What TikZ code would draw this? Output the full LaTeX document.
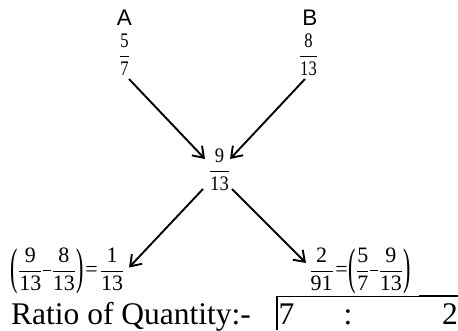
\documentclass[tikz,border=0pt]{standalone}
\usepackage{amsmath}
\usepackage{fontspec}
\setmainfont{Liberation Serif}
\newfontfamily\arialf{Liberation Sans}
\usepackage{graphicx}
\usetikzlibrary{arrows.meta,calc}
\newcommand{\fr}[2]{\ensuremath{\genfrac{}{}{0.9pt}{0}{\text{#1}}{\text{#2}}}}
\newcommand{\lpar}{\raisebox{-7.1pt}{\scalebox{1}[2.29]{(}}}
\newcommand{\rpar}{\raisebox{-7.1pt}{\scalebox{1}[2.29]{)}}}
\newcommand{\mn}{\hspace{0.6pt}\rule[5.05pt]{8pt}{0.9pt}\hspace{0.6pt}}
\begin{document}
\begin{tikzpicture}[x=1pt,y=-1pt,
  arr/.style={line width=1.9pt,-{Straight Barb[length=10pt,width=14pt,line width=1.9pt]}},
  lab/.style={inner sep=0pt,font=\arialf\fontsize{22.5}{26}\selectfont},
  fr/.style={inner sep=0pt,font=\fontsize{20.7}{24}\selectfont},
  expr/.style={inner sep=0pt,font=\fontsize{22}{26}\selectfont},
  big/.style={inner sep=0pt,font=\fontsize{31.5}{36}\selectfont}]
\useasboundingbox (0,0) rectangle (458,330);
\node[lab] (A) at (124.5,17.5) {A};
\node[lab] (B) at (310,17.5) {B};
\node[fr] (f57) at (124.5,54.5) {\scalebox{0.8}[1]{\fr{5}{7}}};
\node[fr] (f813) at (308.5,54.5) {\scalebox{0.8}[1]{\fr{8}{13}}};
\node[fr] (f913) at (219.5,169.5) {\scalebox{0.9}[1]{\fr{9}{13}}};
\node[expr] (L) at (67.5,271) {\lpar\fr{9}{13}\mn\fr{8}{13}\rpar\hspace{2pt}=\hspace{2pt}\fr{1}{13}};
\node[expr] (R) at (360,271) {\fr{2}{91}\hspace{1.5pt}=\hspace{1pt}\lpar\fr{5}{7}\mn\fr{9}{13}\rpar};
\draw[arr] ($(f57)+(4.5,24.5)$) -- ($(f913)+(-14.5,-10.5)$);
\draw[arr] ($(f813)+(-3.5,24.5)$) -- ($(f913)+(10.5,-10.5)$);
\draw[arr] ($(f913)+(-16.5,19.5)$) -- ($(L)+(61.5,-3.5)$);
\draw[arr] ($(f913)+(12.5,19.5)$) -- ($(R)+(-54,-8)$);
\node[big,anchor=base west] (ratio) at (11,324.5) {Ratio of Quantity:-};
\node[big,anchor=base west] (r7) at (278.5,324.5) {7};
\node[big,anchor=base] (rc) at (348,324.5) {:};
\node[big,anchor=base east] (r2) at (458,324.5) {2};
\draw[line width=1.3pt] (277,330) -- (277,296.5) -- (419,296.5);
\draw[line width=2.2pt] (419,296) -- (458,296);
\end{tikzpicture}
\end{document}
